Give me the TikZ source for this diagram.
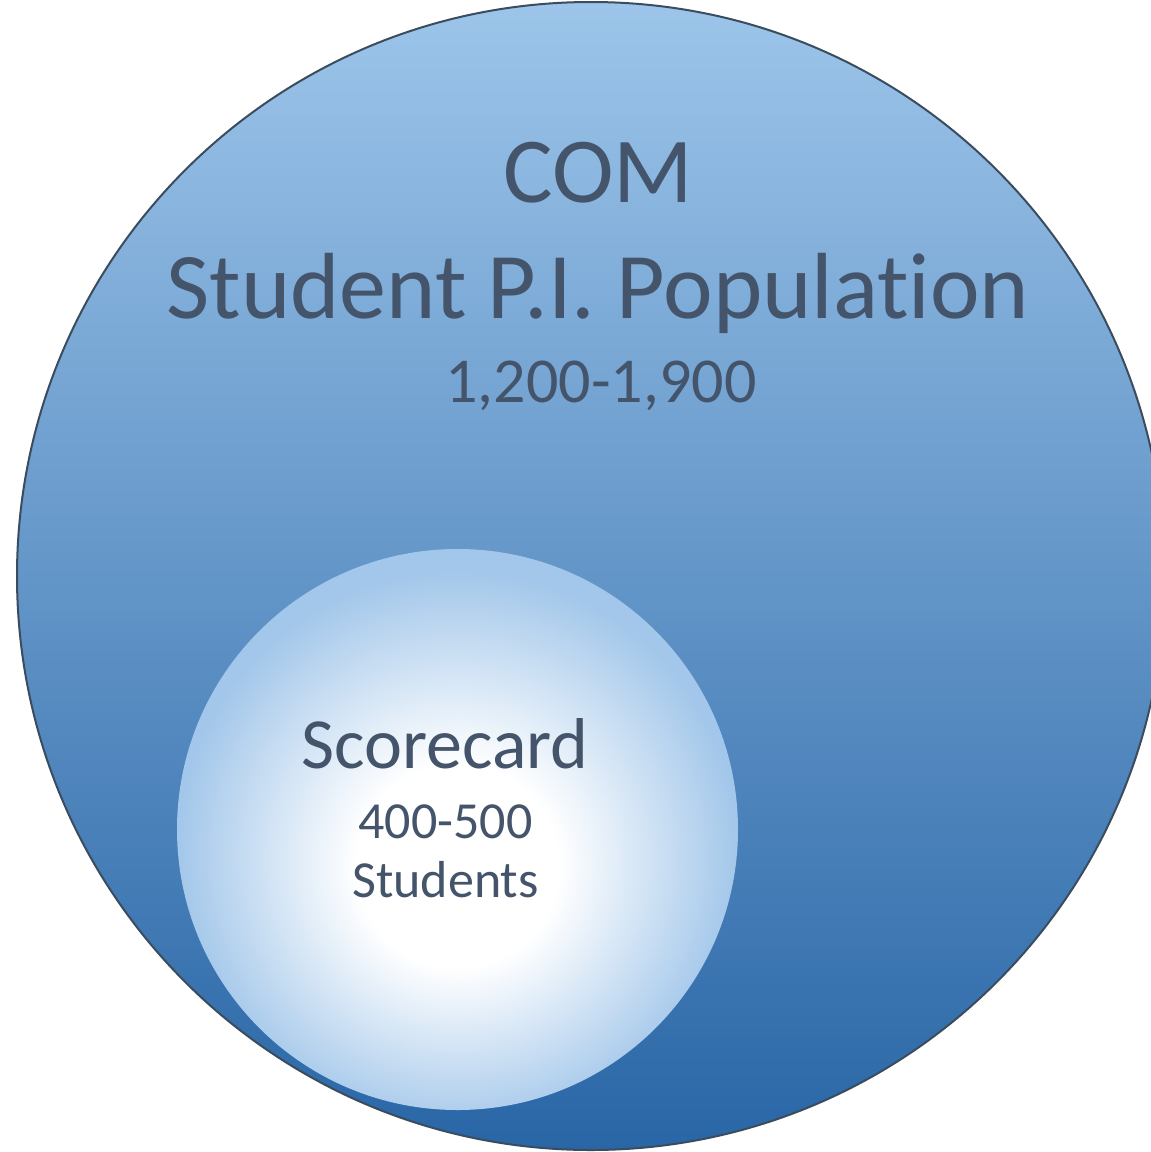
\documentclass[tikz,border=0pt]{standalone}
\usepackage{fontspec}
\setmainfont[Ligatures=NoCommon]{Carlito}
\definecolor{txt}{HTML}{44546A}
\definecolor{topblue}{HTML}{9DC5EA}
\definecolor{midblue}{HTML}{58A0E0}
\definecolor{botblue}{HTML}{2966A6}
\definecolor{edgeblue}{HTML}{3A4C5E}
\definecolor{innerblue}{HTML}{A3C7EA}
\pgfdeclareradialshading{innerglow}{\pgfpoint{0bp}{-4bp}}{color(0bp)=(white); color(9bp)=(white); color(25bp)=(innerblue); color(50bp)=(innerblue)}
\tikzset{
  lbl/.style={text=txt, anchor=base, inner sep=0pt},
}
\begin{document}
\begin{tikzpicture}[x=1pt,y=-1pt]
\useasboundingbox (0,0) rectangle (1151,1152);
\clip (0,0) rectangle (1151,1152);
\shade[top color=topblue, middle color=midblue, bottom color=botblue] (591,576) circle (574);
\draw[edgeblue, line width=2pt] (591,576) circle (574);
\shade[shading=innerglow] (457.5,829.5) circle (280.5);
\node[lbl, font=\fontsize{93}{93}\selectfont] (com) at (598.5,202) {COM};
\node[lbl, font=\fontsize{94}{94}\selectfont] (pop) at (598,318) {Student P.I. Population};
\node[lbl, font=\fontsize{64}{64}\selectfont] (range) at (601,402) {1,200-1,900};
\node[lbl, font=\fontsize{72}{72}\selectfont] (score) at (445,768) {Scorecard};
\node[lbl, font=\fontsize{52}{52}\selectfont] (num) at (445.5,838) {400-500};
\node[lbl, font=\fontsize{52}{52}\selectfont] (stud) at (445.5,897) {Students};
\end{tikzpicture}
\end{document}
